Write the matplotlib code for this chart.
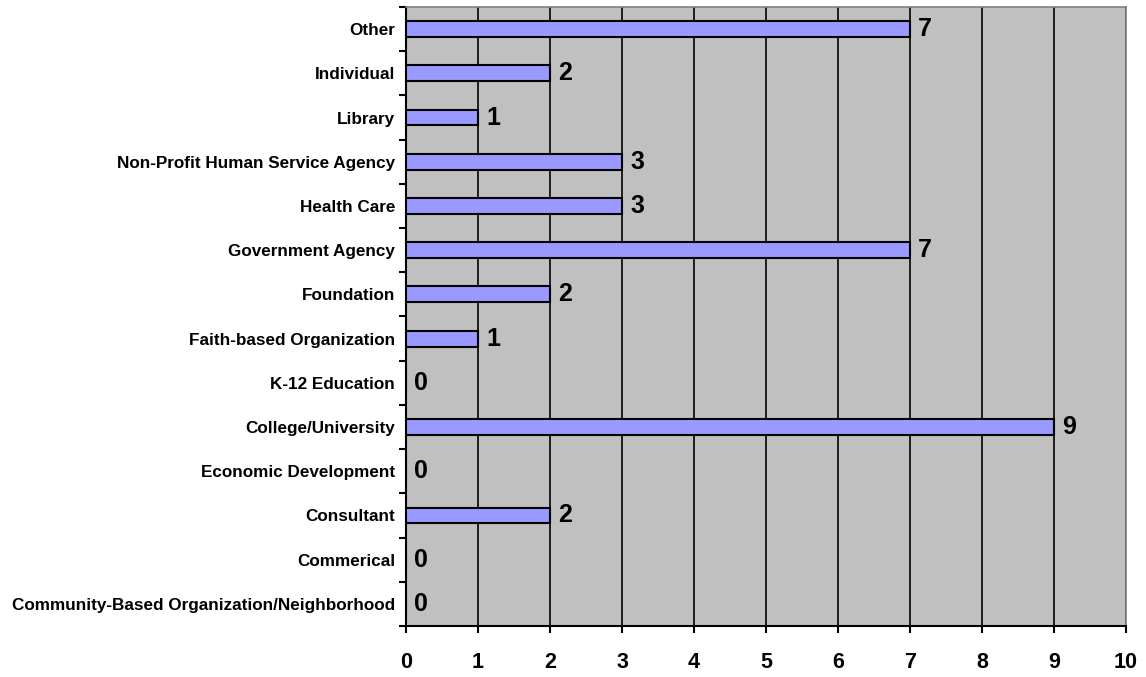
import matplotlib
matplotlib.use("Agg")
import matplotlib.pyplot as plt
import numpy as np

categories = [
    "Community-Based Organization/Neighborhood",
    "Commerical",
    "Consultant",
    "Economic Development",
    "College/University",
    "K-12 Education",
    "Faith-based Organization",
    "Foundation",
    "Government Agency",
    "Health Care",
    "Non-Profit Human Service Agency",
    "Library",
    "Individual",
    "Other",
]
values = [0, 0, 2, 0, 9, 0, 1, 2, 7, 3, 3, 1, 2, 7]
x_ticks = list(range(0, 11))

plt.rcParams['font.family'] = ['Liberation Sans', 'DejaVu Sans']

fig = plt.figure(figsize=(11.46, 6.77), dpi=100)
ax = fig.add_axes([406/1146, 1 - 626/677, (1126-406)/1146, (626-7)/677])
ax.set_facecolor('#C0C0C0')

y = np.arange(len(categories))
ax.barh(y, values, height=0.36, color='#9999FF', edgecolor='black', linewidth=1.5, zorder=3)
for yi, v in zip(y, values):
    ax.annotate(str(v), xy=(v, yi), xytext=(6, 0), textcoords='offset points',
                va='center', ha='left', fontsize=18, fontweight='bold', zorder=4)

ax.set_xlim(0, 10)
ax.set_ylim(-0.5, len(categories) - 0.5)
ax.set_xticks(x_ticks)
ax.set_xticklabels([str(t) for t in x_ticks], fontsize=15.5, fontweight='bold')
ax.set_yticks(y)
ax.set_yticklabels(categories, fontsize=12.3, fontweight='bold')
ax.set_yticks(np.arange(-0.5, len(categories)), minor=True)
ax.tick_params(axis='y', which='major', length=0, pad=8)
ax.tick_params(axis='y', which='minor', length=5, width=1.5, direction='out')
ax.tick_params(axis='x', length=5, width=1.5, direction='out', pad=14)
ax.xaxis.grid(True, color='black', linewidth=1.2, zorder=1)
ax.set_axisbelow(True)
for s in ['top', 'right']:
    ax.spines[s].set_color('#808080')
    ax.spines[s].set_linewidth(1.2)
ax.spines['left'].set_linewidth(1.5)
ax.spines['bottom'].set_linewidth(1.5)

fig.savefig('out.png', dpi=100)
